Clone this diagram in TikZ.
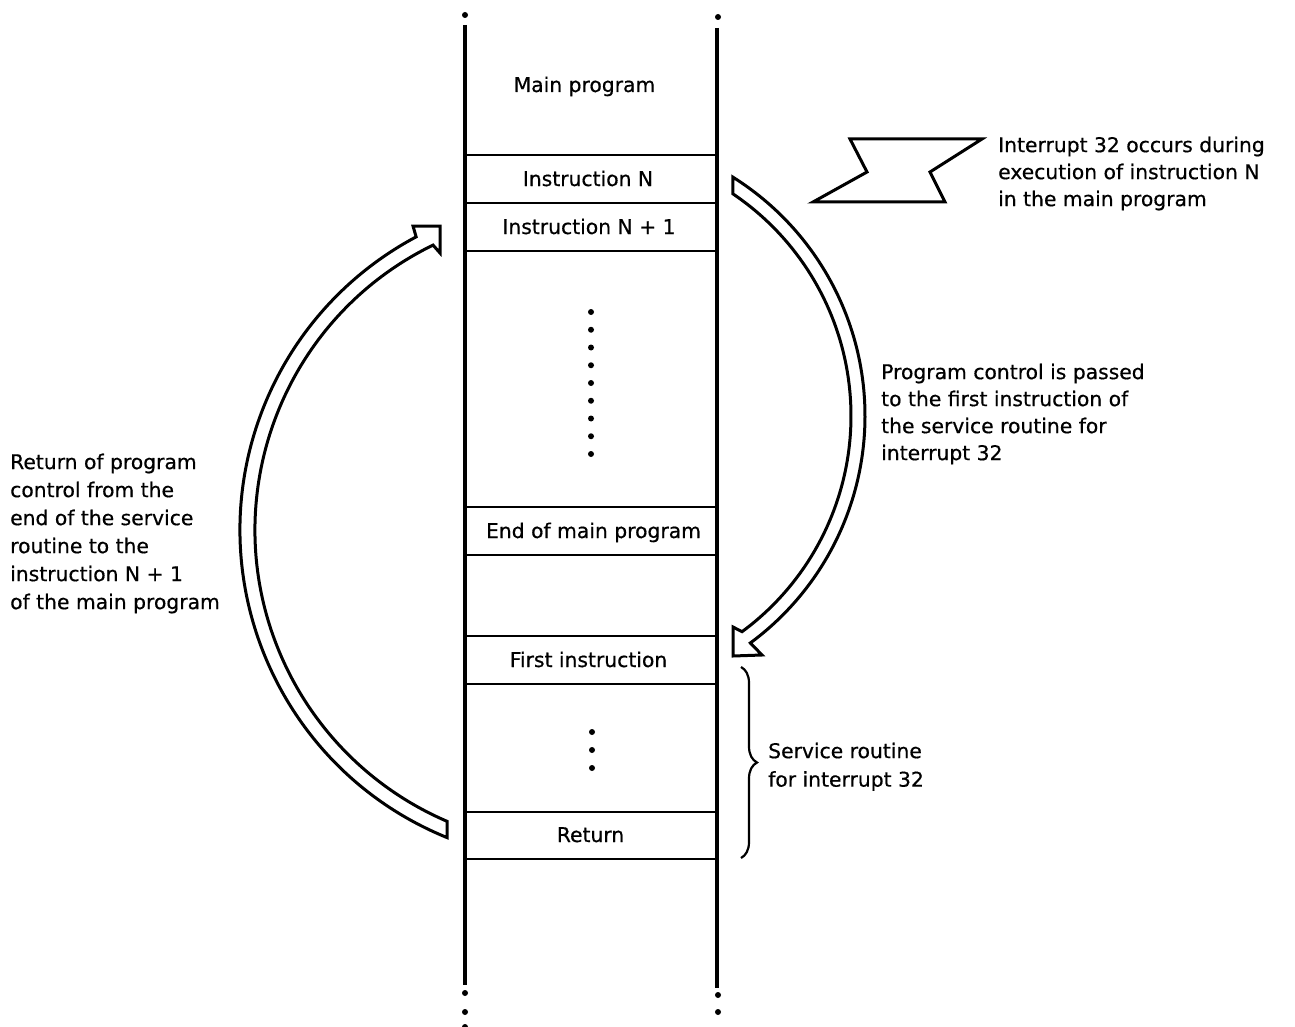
\documentclass[tikz,border=0pt]{standalone}
\usepackage{fontspec}
\setmainfont{DejaVu Sans}[BoldFont=DejaVu Sans, BoldFeatures={FakeBold=0.6}]
\usetikzlibrary{calc,decorations.pathreplacing}
\begin{document}
\begin{tikzpicture}[x=1pt,y=-1pt,
  lbl/.style={font=\fontsize{20.3}{28}\selectfont\bfseries, inner sep=0pt, anchor=base},
  blk/.style={font=\fontsize{20.3}{#1}\selectfont\bfseries, inner sep=0pt, align=left, anchor=north west},
  wall/.style={line width=3.2pt},
  sep/.style={line width=2.8pt},
  dotmark/.style={fill=black},
  hollowarrow/.style={line width=3pt, fill=white, line join=miter},
  bolt/.style={line width=3pt, line join=miter},
  bracestyle/.style={line width=2.2pt, decorate, decoration={brace, amplitude=16pt}}]
\useasboundingbox (0,0) rectangle (1295,1027);

% memory column
\draw[wall] (465,25) -- (465,985);
\draw[wall] (717,28) -- (717,988);
\foreach \yy in {155,203,251,507,555,636,684,812,859}
  \draw[sep] (465,\yy) -- (717,\yy);

% continuation dots
\foreach \yy in {15,993,1012}
  \fill[dotmark] (465,\yy) circle[radius=3];
\fill[dotmark] (465,1027) circle[radius=3];
\foreach \yy in {17,995,1012}
  \fill[dotmark] (718,\yy) circle[radius=3];

% inner dots
\foreach \k in {0,...,8}
  \fill[dotmark] (591,312+17.75*\k) circle[radius=3];
\foreach \yy in {732,750,768}
  \fill[dotmark] (592,\yy) circle[radius=3];

% box labels
\node[lbl] (mainprog) at (584.5,92) {Main program};
\node[lbl] (instN) at (588,186) {Instruction N};
\node[lbl] (instN1) at (589,234) {Instruction N + 1};
\node[lbl] (endmain) at (593.5,538) {End of main program};
\node[lbl] (firstinst) at (588.5,667) {First instruction};
\node[lbl] (retinst) at (590.5,842) {Return};

% lightning bolt
\draw[bolt] (850,139) -- (982,139) -- (930,172) -- (945,202) -- (813,202) -- (867,172) -- cycle;

% right (interrupt) arrow
\coordinate (cR) at (583,416);
\draw[hollowarrow] ($(cR)+(-57.87:282)$) arc[start angle=-57.87, end angle=53.6, radius=282]
  -- (762,655) -- (733,656) -- (733,627) -- ($(cR)+(53.6:268)$)
  arc[start angle=53.6, end angle=-55.97, radius=268] -- cycle;

% left (return) arrow
\coordinate (cL) at (572,530);
\draw[hollowarrow] ($(cL)+(112.1:332)$) arc[start angle=112.1, end angle=242, radius=332]
  -- (413,226) -- (440,226) -- (440,253) -- ($(cL)+(244:317)$)
  arc[start angle=244, end angle=113.2, radius=317] -- cycle;

% brace
\draw[bracestyle] (741,667) -- (741,858);

% annotations
\node[blk=27] (interruptnote) at (998,136.5) {Interrupt 32 occurs during\\execution of instruction N\\in the main program};
\node[blk=27] (controlnote) at (881,363.5) {Program control is passed\\to the first instruction of\\the service routine for\\interrupt 32};
\node[blk=28] (returnnote) at (10,453.5) {Return of program\\control from the\\end of the service\\routine to the\\instruction N + 1\\of the main program};
\node[blk=28.5] (servicenote) at (768,742.5) {Service routine\\for interrupt 32};
\end{tikzpicture}
\end{document}
